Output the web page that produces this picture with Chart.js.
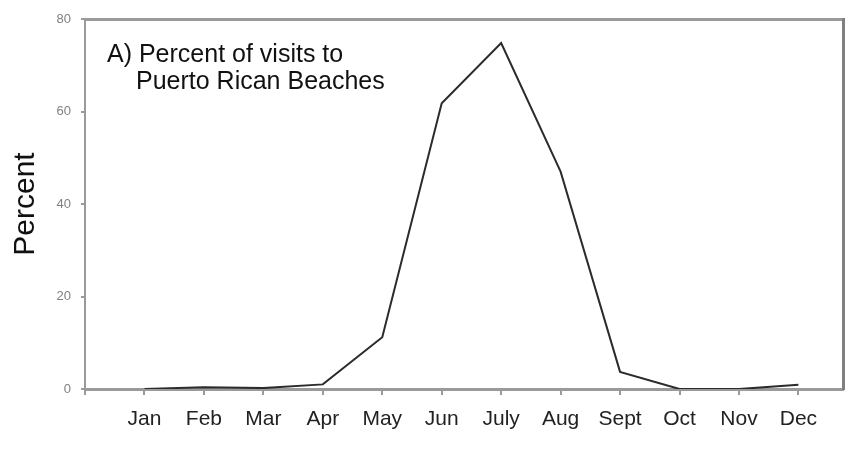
<!DOCTYPE html>
<html lang="en">
<head>
  <meta charset="UTF-8">
  <title>Percent of visits to Puerto Rican Beaches</title>
  <script src="https://cdn.jsdelivr.net/npm/chart.js"></script>
  <style>
    html, body { margin: 0; padding: 0; background: #fff; }
    .wrap { position: relative; width: 846px; height: 463px; }
  </style>
</head>
<body>
  <div class="wrap">
    <canvas id="beachChart" width="846" height="463"></canvas>
  </div>

  <script>
    // data
    const months = ['Jan', 'Feb', 'Mar', 'Apr', 'May', 'Jun', 'July', 'Aug', 'Sept', 'Oct', 'Nov', 'Dec'];
    const visitPercent = [0, 0.4, 0.2, 1, 11.2, 61.8, 74.8, 47, 3.7, 0, 0, 0.9];
    const yTicks = [0, 20, 40, 60, 80];
    const titleLines = ['A) Percent of visits to', 'Puerto Rican Beaches'];

    const axisGray = '#9a9a9a';
    const font = '"Liberation Sans", Arial, sans-serif';

    // months sit on a linear x scale so the axis can start one step before Jan
    const points = visitPercent.map((v, i) => ({ x: i, y: v }));
    const xTickValues = [-1].concat(months.map((m, i) => i));

    // the label inside the plot
    const panelTitle = {
      id: 'panelTitle',
      afterDraw(chart) {
        const c = chart.ctx;
        c.save();
        c.fillStyle = '#111';
        c.font = '25px ' + font;
        c.textBaseline = 'alphabetic';
        c.fillText(titleLines[0], 107, 62);
        c.fillText(titleLines[1], 136, 89);
        c.restore();
      }
    };

    Chart.defaults.font.family = font;

    new Chart(document.getElementById('beachChart'), {
      type: 'line',
      data: {
        datasets: [{
          data: points,
          borderColor: '#2b2b2b',
          borderWidth: 2,
          pointRadius: 0,
          fill: false,
          tension: 0
        }]
      },
      options: {
        responsive: false,
        animation: false,
        layout: { padding: { top: 19, right: 3, left: 8, bottom: 0 } },
        plugins: { legend: { display: false }, tooltip: { enabled: false } },
        scales: {
          x: {
            type: 'linear',
            min: -1,
            max: 11.75,
            afterBuildTicks: s => { s.ticks = xTickValues.map(v => ({ value: v })); },
            afterFit: s => { s.height = 74; },
            ticks: {
              autoSkip: false,
              maxRotation: 0,
              color: '#222',
              font: { size: 21 },
              padding: 12,
              callback: v => months[v] || ''
            },
            grid: { drawOnChartArea: false, tickLength: 6, color: axisGray, lineWidth: 2 },
            border: { color: axisGray, width: 3 }
          },
          y: {
            min: 0,
            max: 80,
            afterBuildTicks: s => { s.ticks = yTicks.map(v => ({ value: v })); },
            afterFit: s => { s.width = 77; },
            ticks: { color: '#808080', font: { size: 13 }, padding: 10 },
            grid: { drawOnChartArea: false, tickLength: 4, color: axisGray, lineWidth: 2 },
            border: { color: axisGray, width: 2 },
            title: {
              display: true,
              text: 'Percent',
              color: '#111',
              font: { size: 30 },
              padding: { top: 0, bottom: 10 }
            }
          },
          xTop: {
            type: 'linear',
            position: 'top',
            min: -1,
            max: 11.75,
            afterFit: s => { s.height = 0; },
            ticks: { display: false },
            grid: { display: false },
            border: { color: axisGray, width: 3 }
          },
          yRight: {
            position: 'right',
            min: 0,
            max: 80,
            afterFit: s => { s.width = 0; },
            ticks: { display: false },
            grid: { display: false },
            border: { color: '#808080', width: 3 }
          }
        }
      },
      plugins: [panelTitle]
    });
  </script>
</body>
</html>
